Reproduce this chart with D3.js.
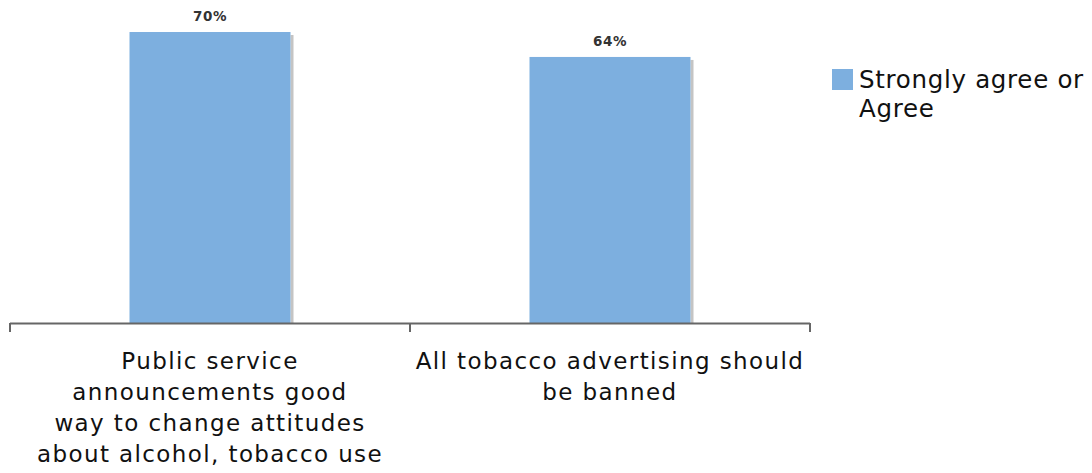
<!DOCTYPE html>
<html><head><meta charset="utf-8">
<script src="https://cdn.jsdelivr.net/npm/d3@7"></script>
<style>body{margin:0;background:#fff}svg{display:block}text{font-family:"DejaVu Sans",Verdana,sans-serif}</style>
</head><body><svg id="c" width="1092" height="473"></svg>
<script>
const categories = [
  ["Public service", "announcements good", "way to change attitudes", "about alcohol, tobacco use"],
  ["All tobacco advertising should", "be banned"]
];
const values = [70, 64];
const seriesName = ["Strongly agree or", "Agree"];

const svg = d3.select("#c");
const x = d3.scaleBand().domain(d3.range(categories.length)).range([10, 810]).paddingInner(0).paddingOuter(0);
const y = d3.scaleLinear().domain([0, 100]).range([323, 323 - 415.7]);
const barW = 161;
const color = "#7dafdf";

const g = svg.append("g");
g.selectAll("rect.sh").data(values).join("rect")
  .attr("x", (d, i) => x(i) + (x.bandwidth() - barW) / 2 + barW)
  .attr("y", d => y(d) + 3)
  .attr("width", 3)
  .attr("height", d => y(0) - y(d) - 3)
  .attr("fill", "#c4c4c4");
g.selectAll("rect.bar").data(values).join("rect")
  .attr("x", (d, i) => x(i) + (x.bandwidth() - barW) / 2)
  .attr("y", d => y(d))
  .attr("width", barW)
  .attr("height", d => y(0) - y(d))
  .attr("fill", color);
g.selectAll("text.v").data(values).join("text")
  .attr("x", (d, i) => x(i) + x.bandwidth() / 2)
  .attr("y", d => y(d) - 11)
  .attr("text-anchor", "middle")
  .attr("font-size", 13.5).attr("letter-spacing", 0.6).attr("font-weight", "bold").attr("fill", "#333")
  .text(d => d + "%");

const axis = svg.append("g");
axis.append("line").attr("x1", 10).attr("x2", 810).attr("y1", 323.5).attr("y2", 323.5)
  .attr("stroke", "#666").attr("stroke-width", 2);
const ticks = [10, ...d3.range(categories.length).map(i => x(i) + x.bandwidth())];
axis.selectAll("line.t").data(ticks).join("line")
  .attr("x1", d => d).attr("x2", d => d).attr("y1", 323).attr("y2", 332)
  .attr("stroke", "#666").attr("stroke-width", 2);

const lab = svg.selectAll("text.c").data(categories).join("text")
  .attr("text-anchor", "middle").attr("font-size", 23).attr("letter-spacing", 1.4).attr("fill", "#111");
lab.each(function(lines, i) {
  d3.select(this).selectAll("tspan").data(lines).join("tspan")
    .attr("x", x(i) + x.bandwidth() / 2)
    .attr("y", (l, j) => 369 + j * 31)
    .text(l => l);
});

svg.append("rect").attr("x", 832).attr("y", 69).attr("width", 21).attr("height", 21).attr("fill", color);
svg.append("text").attr("font-size", 24.5).attr("letter-spacing", 0.7).attr("fill", "#111")
  .selectAll("tspan").data(seriesName).join("tspan")
  .attr("x", 859).attr("y", (d, j) => 88 + j * 29).text(d => d);
</script></body></html>
